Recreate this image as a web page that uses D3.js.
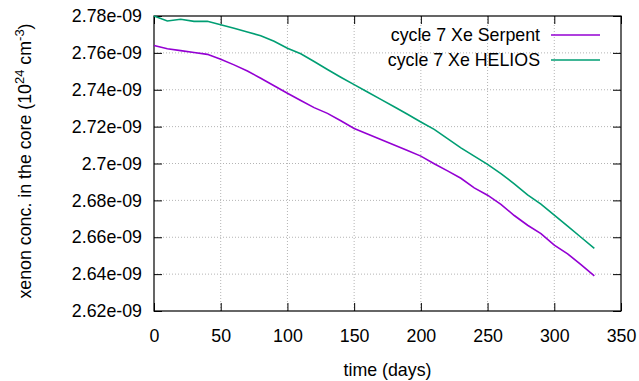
<!DOCTYPE html>
<html>
<head>
<meta charset="utf-8">
<script src="https://cdn.jsdelivr.net/npm/d3@7"></script>
<style>
  body { margin: 0; background: #fff; }
  svg { display: block; }
  text { font-family: "Liberation Sans", Arial, Helvetica, sans-serif; fill: #000; }
</style>
</head>
<body>
<div id="chart"></div>
<script>
// time in days
var days = [0,10,20,30,40,50,60,70,80,90,100,110,120,130,140,150,160,170,180,190,200,
            210,220,230,240,250,260,270,280,290,300,310,320,330];

// xenon concentration, in units of 1e-9 (1e24 cm^-3)
var serpent = [2.7640,2.7622,2.7612,2.7602,2.7592,2.7565,2.7535,2.7502,2.7462,2.7422,2.7381,
               2.7342,2.7303,2.7272,2.7232,2.7190,2.7160,2.7130,2.7100,2.7070,2.7040,
               2.6999,2.6960,2.6920,2.6868,2.6828,2.6778,2.6718,2.6665,2.6620,2.6557,
               2.6510,2.6452,2.6390];
var helios = [2.7800,2.7773,2.7782,2.7771,2.7771,2.7753,2.7733,2.7713,2.7693,2.7663,2.7625,
              2.7595,2.7553,2.7510,2.7468,2.7428,2.7388,2.7348,2.7308,2.7267,2.7225,
              2.7185,2.7135,2.7085,2.7040,2.6995,2.6945,2.6890,2.6830,2.6780,2.6720,
              2.6660,2.6600,2.6540];

var seriesNames = ['cycle 7 Xe Serpent', 'cycle 7 Xe HELIOS'];
var seriesColors = ['#9400d3', '#009e73'];

var xTicks = [0,50,100,150,200,250,300,350];
var yTicks = [2.62,2.64,2.66,2.68,2.70,2.72,2.74,2.76,2.78];
var yTickLabels = ['2.62e-09','2.64e-09','2.66e-09','2.68e-09','2.7e-09','2.72e-09','2.74e-09','2.76e-09','2.78e-09'];

var width = 639, height = 381;
var pLeft = 154, pRight = 621, pTop = 16, pBottom = 311;
var fontSize = 17.8;

var svg = d3.select('#chart').append('svg')
    .attr('width', width)
    .attr('height', height);

var x = d3.scaleLinear().domain([0, 350]).range([pLeft, pRight]);
var y = d3.scaleLinear().domain([2.62, 2.78]).range([pBottom, pTop]);

// dotted grid
var grid = svg.append('g').attr('stroke', '#b4b4b4').attr('stroke-dasharray', '1,2').attr('stroke-width', 1);
xTicks.slice(1, -1).forEach(function(t) {
    grid.append('line').attr('x1', x(t)).attr('x2', x(t)).attr('y1', pTop).attr('y2', pBottom);
});
yTicks.slice(1, -1).forEach(function(t) {
    grid.append('line').attr('x1', pLeft).attr('x2', pRight).attr('y1', y(t)).attr('y2', y(t));
});

// axes, ticks inward + mirrored
var tickLen = 8;
var xAxisB = d3.axisBottom(x).tickValues(xTicks).tickSize(-tickLen).tickFormat(d3.format('d'));
var xAxisT = d3.axisTop(x).tickValues(xTicks).tickSize(-tickLen).tickFormat('');
var yAxisL = d3.axisLeft(y).tickValues(yTicks).tickSize(-tickLen)
    .tickFormat(function(d, i) { return yTickLabels[i]; });
var yAxisR = d3.axisRight(y).tickValues(yTicks).tickSize(-tickLen).tickFormat('');

function styleAxis(g) {
    g.select('.domain').remove();
    g.selectAll('.tick line').attr('stroke', '#000').attr('stroke-width', 1);
    g.selectAll('.tick text').style('font-size', fontSize + 'px')
        .style('font-family', '"Liberation Sans", Arial, sans-serif').attr('fill', '#000');
}

svg.append('g').attr('transform', 'translate(0,' + pBottom + ')').call(xAxisB).call(styleAxis)
    .selectAll('.tick text').attr('y', 18).attr('dy', '0.71em');
svg.append('g').attr('transform', 'translate(0,' + pTop + ')').call(xAxisT).call(styleAxis);
svg.append('g').attr('transform', 'translate(' + pLeft + ',0)').call(yAxisL).call(styleAxis)
    .selectAll('.tick text').attr('x', -12);
svg.append('g').attr('transform', 'translate(' + pRight + ',0)').call(yAxisR).call(styleAxis);

// frame
svg.append('rect')
    .attr('x', pLeft).attr('y', pTop)
    .attr('width', pRight - pLeft).attr('height', pBottom - pTop)
    .attr('fill', 'none').attr('stroke', '#000').attr('stroke-width', 1.2);

// lines
var line = d3.line()
    .x(function(d, i) { return x(days[i]); })
    .y(function(d) { return y(d); });

[serpent, helios].forEach(function(s, k) {
    svg.append('path')
        .datum(s)
        .attr('d', line)
        .attr('fill', 'none')
        .attr('stroke', seriesColors[k])
        .attr('stroke-width', 1.6);
});

// legend
seriesNames.forEach(function(name, k) {
    var ly = 35 + k * 25;
    svg.append('text')
        .attr('x', 540).attr('y', ly).attr('dy', '0.35em')
        .attr('text-anchor', 'end')
        .style('font-size', fontSize + 'px')
        .text(name);
    svg.append('line')
        .attr('x1', 551).attr('x2', 600).attr('y1', ly).attr('y2', ly)
        .attr('stroke', seriesColors[k]).attr('stroke-width', 1.6);
});

// axis titles
svg.append('text')
    .attr('x', (pLeft + pRight) / 2).attr('y', 376)
    .attr('text-anchor', 'middle')
    .style('font-size', fontSize + 'px')
    .text('time (days)');

var yl = svg.append('text')
    .attr('transform', 'translate(31,161) rotate(-90)')
    .attr('text-anchor', 'middle')
    .style('font-size', fontSize + 'px');
yl.append('tspan').text('xenon conc. in the core (10');
yl.append('tspan').attr('dy', -7).style('font-size', '13px').text('24');
yl.append('tspan').attr('dy', 7).text(' cm');
yl.append('tspan').attr('dy', -7).style('font-size', '13px').text('-3');
yl.append('tspan').attr('dy', 7).text(')');
</script>
</body>
</html>
